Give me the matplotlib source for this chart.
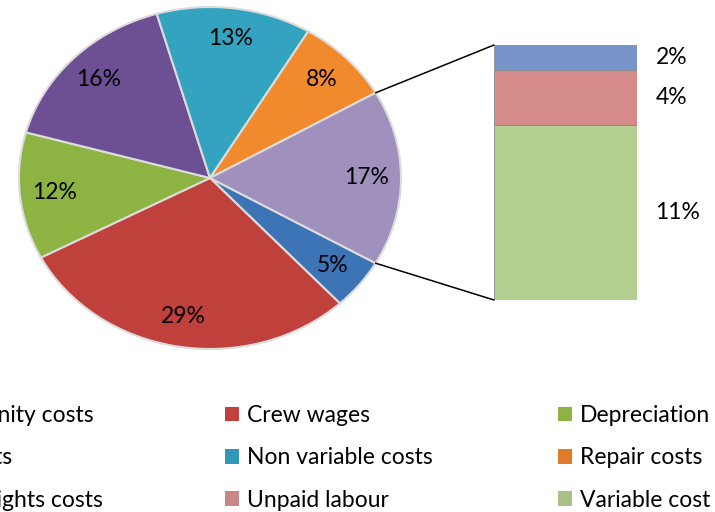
import matplotlib
matplotlib.use('Agg')
import matplotlib.pyplot as plt
from matplotlib.patches import Patch, ConnectionPatch
import numpy as np

plt.rcParams['font.family'] = ['Lato', 'DejaVu Sans']

# main pie (clockwise order, "Other" is split out into the bar)
pie_names = ['Opportunity costs', 'Crew wages', 'Depreciation', 'Fuel costs',
             'Non variable costs', 'Repair costs', 'Other']
pie_vals = [4.8, 29.2, 12.0, 16.2, 13.1, 8.1]
pie_colors = ['#3c74b6', '#c0403c', '#8db443', '#6d4f93',
              '#33a3c0', '#f08a2c', '#a090bd']

# breakdown of "Other" (bottom to top)
bar_names = ['Variable cost', 'Unpaid labour', 'Fishing rights costs']
bar_vals = [11.4, 3.6, 1.6]
bar_colors = ['#b3cf8f', '#d58b89', '#7795c8']

other = sum(bar_vals)
vals = pie_vals + [other]

fig = plt.figure(figsize=(7.15, 5.12), dpi=100)

# --- pie ---
axp = fig.add_axes([19/715, 163/512, 382/715, 342/512])
half = other / sum(vals) * 180.
wedges, texts, autotexts = axp.pie(
    vals, colors=pie_colors, startangle=-half, counterclock=False,
    autopct='%1.0f%%', pctdistance=0.82, radius=1,
    wedgeprops=dict(edgecolor='#dcdcdc', linewidth=1.5),
    textprops=dict(fontsize=16.5, color='black'))
axp.set_aspect('auto')
axp.set_xlim(-1, 1)
axp.set_ylim(-1, 1)
for t in autotexts:
    t.set_ha('center')
    t.set_va('center')

# --- bar ---
axb = fig.add_axes([494/715, 212/512, 143/715, 255/512])
bottom = 0
for v, c in zip(bar_vals, bar_colors):
    axb.bar(0, v, width=1, bottom=bottom, color=c, edgecolor='#8a8a8a', linewidth=0.6)
    axb.text(1.13, bottom + v / 2, '%1.0f%%' % v, transform=axb.get_yaxis_transform(),
             ha='left', va='center', fontsize=16.5)
    bottom += v
axb.set_xlim(-0.5, 0.5)
axb.set_ylim(0, other)
axb.axis('off')

# connector lines
th = np.deg2rad(half)
for yp, yb in [(np.sin(th), other), (-np.sin(th), 0)]:
    con = ConnectionPatch(xyA=(np.cos(th), yp), coordsA=axp.transData,
                          xyB=(-0.5, yb), coordsB=axb.transData,
                          color='black', linewidth=1.1)
    fig.add_artist(con)

# --- legend (three columns, left one runs off the figure like the source) ---
leg_names = ['Opportunity costs', 'Crew wages', 'Depreciation',
             'Fuel costs', 'Non variable costs', 'Repair costs',
             'Fishing rights costs', 'Unpaid labour', 'Variable cost']
leg_colors = ['#3c74b6', '#c0403c', '#8db443',
              '#6d4f93', '#2f97b7', '#e07b2a',
              '#7795c8', '#c98786', '#a9c08c']

cols = [(103/715, 'center right'), (225/715, 'center left'), (558/715, 'center left')]
for i, (x, loc) in enumerate(cols):
    idx = [i, i + 3, i + 6]
    handles = [Patch(facecolor=leg_colors[j], edgecolor='none') for j in idx]
    fig.legend(handles, [leg_names[j] for j in idx], loc=loc,
               bbox_to_anchor=(x, 1 - 458/512), frameon=False, fontsize=16.5,
               borderpad=0, borderaxespad=0, handlelength=0.6, handleheight=0.6,
               handletextpad=0.35, labelspacing=0.93)

fig.savefig('out.png', dpi=100)
